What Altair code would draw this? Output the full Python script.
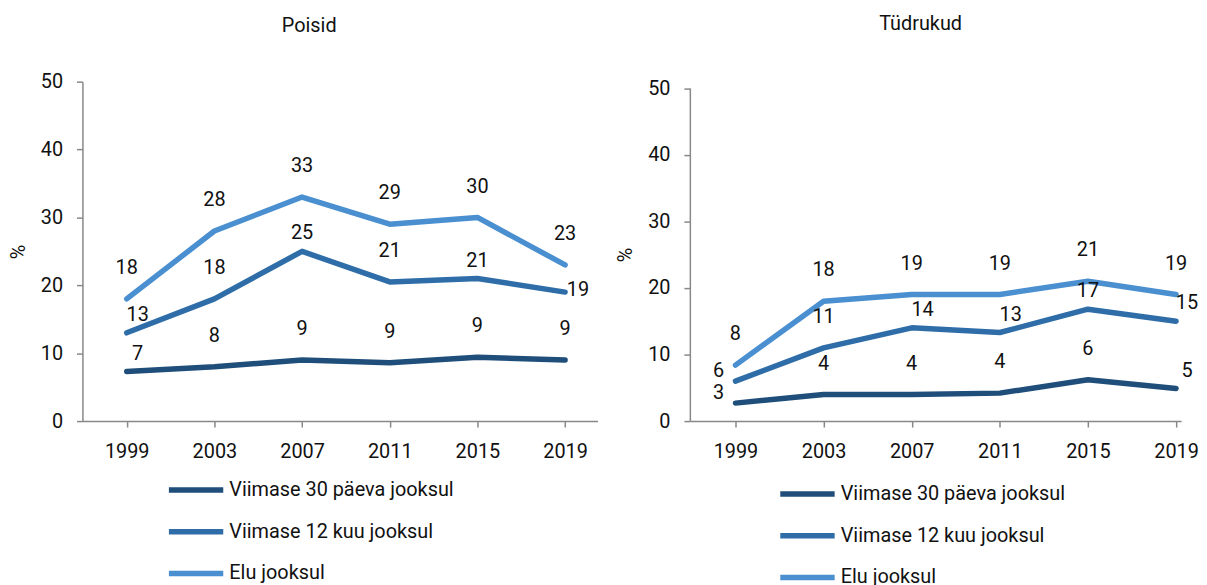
import altair as alt
import pandas as pd

FONT = "Roboto"
FS = 20

years = [1999, 2003, 2007, 2011, 2015, 2019]
series = ["Viimase 30 päeva jooksul", "Viimase 12 kuu jooksul", "Elu jooksul"]
colors = ["#1f4e7a", "#2e6da8", "#4a8fd0"]

# Poisid (boys)
boys_30d = [7.3, 8.0, 9.0, 8.6, 9.4, 9.0]
boys_12m = [13.0, 18.0, 25.0, 20.5, 21.0, 19.0]
boys_life = [18.0, 28.0, 33.0, 29.0, 30.0, 23.0]
boys_30d_lbl = [7, 8, 9, 9, 9, 9]
boys_12m_lbl = [13, 18, 25, 21, 21, 19]
boys_life_lbl = [18, 28, 33, 29, 30, 23]

# Tüdrukud (girls)
girls_30d = [2.7, 4.0, 4.0, 4.2, 6.2, 4.9]
girls_12m = [6.0, 11.0, 14.0, 13.3, 16.8, 15.0]
girls_life = [8.4, 18.0, 19.0, 19.0, 21.0, 19.0]
girls_30d_lbl = [3, 4, 4, 4, 6, 5]
girls_12m_lbl = [6, 11, 14, 13, 17, 15]
girls_life_lbl = [8, 18, 19, 19, 21, 19]

# label placement styles (like Excel's label position setting)
boys_place = [
    ["right", "above", "above", "above", "above", "above"],
    ["right", "above", "near", "above", "near", "side"],
    ["above"] * 6,
]
girls_place = [
    ["left", "above", "above", "above", "above", "right"],
    ["left", "above", "right", "right", "near", "right"],
    ["above"] * 6,
]
PLACEMENTS = {
    "above": (0, -31),
    "near": (0, -18),
    "right": (11, -18),
    "left": (-17, -10),
    "side": (13, -2),
}


def panel(vals, lbls, place, title, width, height, yrange, xdomain,
          title_offset, title_dx, legend_x, legend_y):
    rows = []
    for s, v, l, p in zip(series, vals, lbls, place):
        for i, yr in enumerate(years):
            rows.append({"year": yr, "series": s, "value": v[i],
                         "label": str(l[i]), "place": p[i]})
    df = pd.DataFrame(rows)

    x = alt.X("year:Q",
              scale=alt.Scale(domain=xdomain, nice=False, zero=False),
              axis=alt.Axis(values=years, format="d", title=None, grid=False,
                            domainColor="#888888", tickColor="#888888",
                            domainWidth=1.5, tickWidth=1.5, tickSize=6,
                            labelFontSize=FS, labelFont=FONT, labelColor="#111111",
                            labelPadding=15, labelFlush=False))
    y = alt.Y("value:Q",
              scale=alt.Scale(domain=[0, 50], nice=False, range=yrange),
              axis=alt.Axis(values=[0, 10, 20, 30, 40, 50], title="%", grid=False,
                            domainColor="#888888", tickColor="#888888",
                            domainWidth=1.5, tickWidth=1.5, tickSize=6,
                            labelFontSize=FS, labelFont=FONT, labelColor="#111111",
                            labelPadding=14, titleFont=FONT, titleFontSize=20,
                            titleFontWeight="normal", titleColor="#111111",
                            titlePadding=12))
    color = alt.Color("series:N",
                      scale=alt.Scale(domain=series, range=colors),
                      sort=series,
                      legend=alt.Legend(title=None, orient="none", legendX=legend_x,
                                        legendY=legend_y, direction="vertical",
                                        symbolType="stroke", symbolSize=3000,
                                        symbolStrokeWidth=5.5, labelFontSize=FS,
                                        labelFont=FONT, labelColor="#111111",
                                        labelOffset=3, rowPadding=-0.5, padding=0,
                                        labelLimit=400))
    base = alt.Chart(df)
    lines = base.mark_line(strokeWidth=5.5, strokeCap="round", strokeJoin="round").encode(
        x=x, y=y, color=color, order="year:Q")
    layers = [lines]
    for name, (dx, dy) in PLACEMENTS.items():
        layers.append(
            base.transform_filter(alt.datum.place == name)
            .mark_text(dx=dx, dy=dy, fontSize=FS, font=FONT, color="#111111",
                       baseline="middle", align="center")
            .encode(x=x, y=y, text="label:N")
        )
    return alt.layer(*layers).properties(
        width=width, height=height,
        title=alt.TitleParams(title, fontSize=FS, font=FONT, fontWeight="normal",
                              color="#111111", anchor="middle",
                              offset=title_offset, dx=title_dx))


left = panel([boys_30d, boys_12m, boys_life],
             [boys_30d_lbl, boys_12m_lbl, boys_life_lbl],
             boys_place, "Poisid", 519, 342, [342, 0], [1996.98, 2020.48],
             36, -31, 84, 381)
right = panel([girls_30d, girls_12m, girls_life],
              [girls_30d_lbl, girls_12m_lbl, girls_life_lbl],
              girls_place, "Tüdrukud", 495, 342, [342, 6.5], [1996.93, 2019.23],
              45, -15, 88, 385)

chart = alt.hconcat(left, right, spacing=18).resolve_legend(color="independent").configure(
    padding={"left": 0, "top": 3, "right": 0, "bottom": 0}
).configure_view(stroke=None)

chart.save("out.html", embed_options={"renderer": "svg", "actions": False})
